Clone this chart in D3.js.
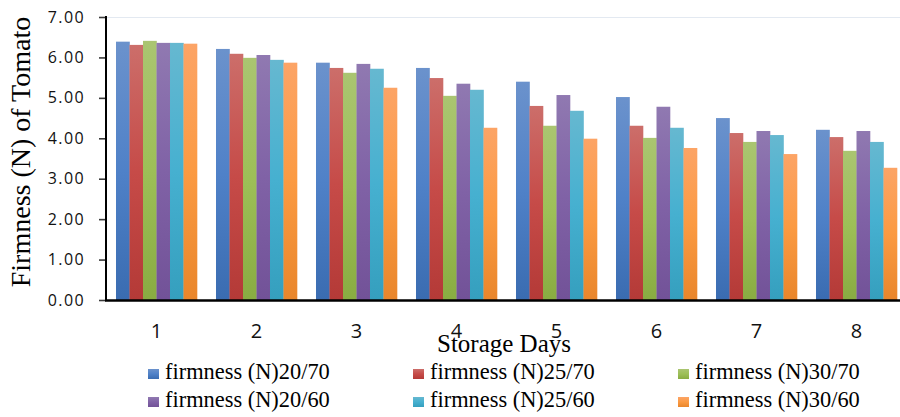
<!DOCTYPE html>
<html>
<head>
<meta charset="utf-8">
<script src="https://cdn.jsdelivr.net/npm/d3@7/dist/d3.min.js"></script>
<style>
  html, body { margin: 0; padding: 0; background: #fff; }
  svg { display: block; }
</style>
</head>
<body>
<svg id="chart" width="900" height="417"></svg>
<script>
// Storage days on the category axis
const days = ["1", "2", "3", "4", "5", "6", "7", "8"];

// Series names (temperature / humidity treatments)
const seriesNames = [
  "firmness (N)20/70",
  "firmness (N)25/70",
  "firmness (N)30/70",
  "firmness (N)20/60",
  "firmness (N)25/60",
  "firmness (N)30/60"
];

// Firmness values (N) per series, one per storage day
const firm2070 = [6.39, 6.21, 5.87, 5.74, 5.40, 5.02, 4.50, 4.21];
const firm2570 = [6.31, 6.09, 5.74, 5.49, 4.80, 4.31, 4.13, 4.03];
const firm3070 = [6.41, 5.99, 5.62, 5.05, 4.31, 4.01, 3.91, 3.69];
const firm2060 = [6.36, 6.06, 5.84, 5.35, 5.07, 4.78, 4.18, 4.18];
const firm2560 = [6.36, 5.94, 5.72, 5.20, 4.68, 4.26, 4.08, 3.91];
const firm3060 = [6.34, 5.87, 5.25, 4.26, 3.99, 3.76, 3.61, 3.27];

// Y axis tick values
const yTicks = [0, 1, 2, 3, 4, 5, 6, 7];

const seriesValues = [firm2070, firm2570, firm3070, firm2060, firm2560, firm3060];

// Gradient stops (light top, base middle, shaded bottom) per series
const palette = [
  ["#6b92cc", "#4f81c8", "#3a6cb1"],
  ["#cc6e6a", "#c64b48", "#b43a37"],
  ["#aac571", "#9dbf57", "#89ac42"],
  ["#9079b1", "#8062a6", "#725298"],
  ["#66b8d0", "#46b0d0", "#359fbe"],
  ["#fca466", "#fb9a42", "#e9862b"]
];

const svg = d3.select("#chart");
const defs = svg.append("defs");

palette.forEach((c, i) => {
  const g = defs.append("linearGradient")
    .attr("id", "grad" + i)
    .attr("x1", 0).attr("y1", 0).attr("x2", 0).attr("y2", 1);
  g.append("stop").attr("offset", "0%").attr("stop-color", c[0]);
  g.append("stop").attr("offset", "50%").attr("stop-color", c[1]);
  g.append("stop").attr("offset", "100%").attr("stop-color", c[2]);
});

const plot = { left: 106, right: 906, top: 17, bottom: 300 };

const x0 = d3.scaleBand()
  .domain(days)
  .range([plot.left + 0.5, plot.right + 0.5])
  .paddingInner(0.19)
  .paddingOuter(0.095);

const x1 = d3.scaleBand()
  .domain(d3.range(seriesNames.length))
  .range([0, x0.bandwidth()]);

const y = d3.scaleLinear()
  .domain([0, 7])
  .range([plot.bottom, plot.top]);

// faint plot-area top edge
svg.append("line")
  .attr("x1", plot.left).attr("x2", 900)
  .attr("y1", y(7) + 0.5).attr("y2", y(7) + 0.5)
  .attr("stroke", "#e3e9f1").attr("stroke-width", 1);

// bars
const groups = svg.append("g").selectAll("g")
  .data(days)
  .join("g")
  .attr("transform", d => `translate(${x0(d)},0)`);

groups.selectAll("rect")
  .data((d, di) => seriesValues.map((vals, si) => ({ si, v: vals[di] })))
  .join("rect")
  .attr("x", d => x1(d.si))
  .attr("width", x1.bandwidth() + 0.3)
  .attr("y", d => y(d.v))
  .attr("height", d => y(0) - y(d.v))
  .attr("fill", d => `url(#grad${d.si})`);

// Y axis
const yAxis = d3.axisLeft(y)
  .tickValues(yTicks)
  .tickFormat(d3.format(".2f"))
  .tickSize(7)
  .tickPadding(14);

const gy = svg.append("g")
  .attr("transform", `translate(${plot.left},0)`)
  .call(yAxis);
gy.select(".domain").remove();
gy.selectAll(".tick line").attr("stroke", "#3a3a3a").attr("stroke-width", 1.6);
gy.selectAll(".tick text")
  .attr("font-family", "'Open Sans', sans-serif")
  .attr("font-size", 16)
  .attr("letter-spacing", "1.4px")
  .attr("fill", "#111");

svg.append("line")
  .attr("x1", plot.left).attr("x2", plot.left)
  .attr("y1", y(7) - 1).attr("y2", plot.bottom + 1)
  .attr("stroke", "#000").attr("stroke-width", 2);

// X axis
const xAxis = d3.axisBottom(x0).tickSize(0).tickPadding(0);
const gx = svg.append("g")
  .attr("transform", `translate(0,${plot.bottom})`)
  .call(xAxis);
gx.select(".domain").remove();
gx.selectAll(".tick text")
  .attr("font-family", "'Open Sans', sans-serif")
  .attr("font-size", 20)
  .attr("fill", "#111")
  .attr("dy", null)
  .attr("y", 37.5);

svg.append("line")
  .attr("x1", plot.left - 1).attr("x2", 900)
  .attr("y1", plot.bottom + 0.5).attr("y2", plot.bottom + 0.5)
  .attr("stroke", "#000").attr("stroke-width", 2.4);

// Axis titles
svg.append("text")
  .attr("x", 504).attr("y", 352)
  .attr("text-anchor", "middle")
  .attr("font-family", "'Liberation Serif', 'Times New Roman', serif")
  .attr("font-size", 25)
  .attr("fill", "#000")
  .text("Storage Days");

svg.append("text")
  .attr("transform", "translate(30,152) rotate(-90)")
  .attr("text-anchor", "middle")
  .attr("font-family", "'Liberation Serif', 'Times New Roman', serif")
  .attr("font-size", 28)
  .attr("fill", "#000")
  .text("Firmness (N) of Tomato");

// Legend: 3 columns x 2 rows
const legend = svg.append("g");
const colX = [148, 413, 678];
const rowY = [379, 407];
seriesNames.forEach((name, i) => {
  const cx = colX[i % 3], ry = rowY[Math.floor(i / 3)];
  const item = legend.append("g");
  item.append("rect")
    .attr("x", cx).attr("y", ry - 10)
    .attr("width", 11).attr("height", 10)
    .attr("fill", `url(#grad${i})`);
  item.append("text")
    .attr("x", cx + 17).attr("y", ry)
    .attr("font-family", "'Liberation Serif', 'Times New Roman', serif")
    .attr("font-size", 22.4)
    .attr("fill", "#000")
    .text(name);
});
</script>
</body>
</html>
